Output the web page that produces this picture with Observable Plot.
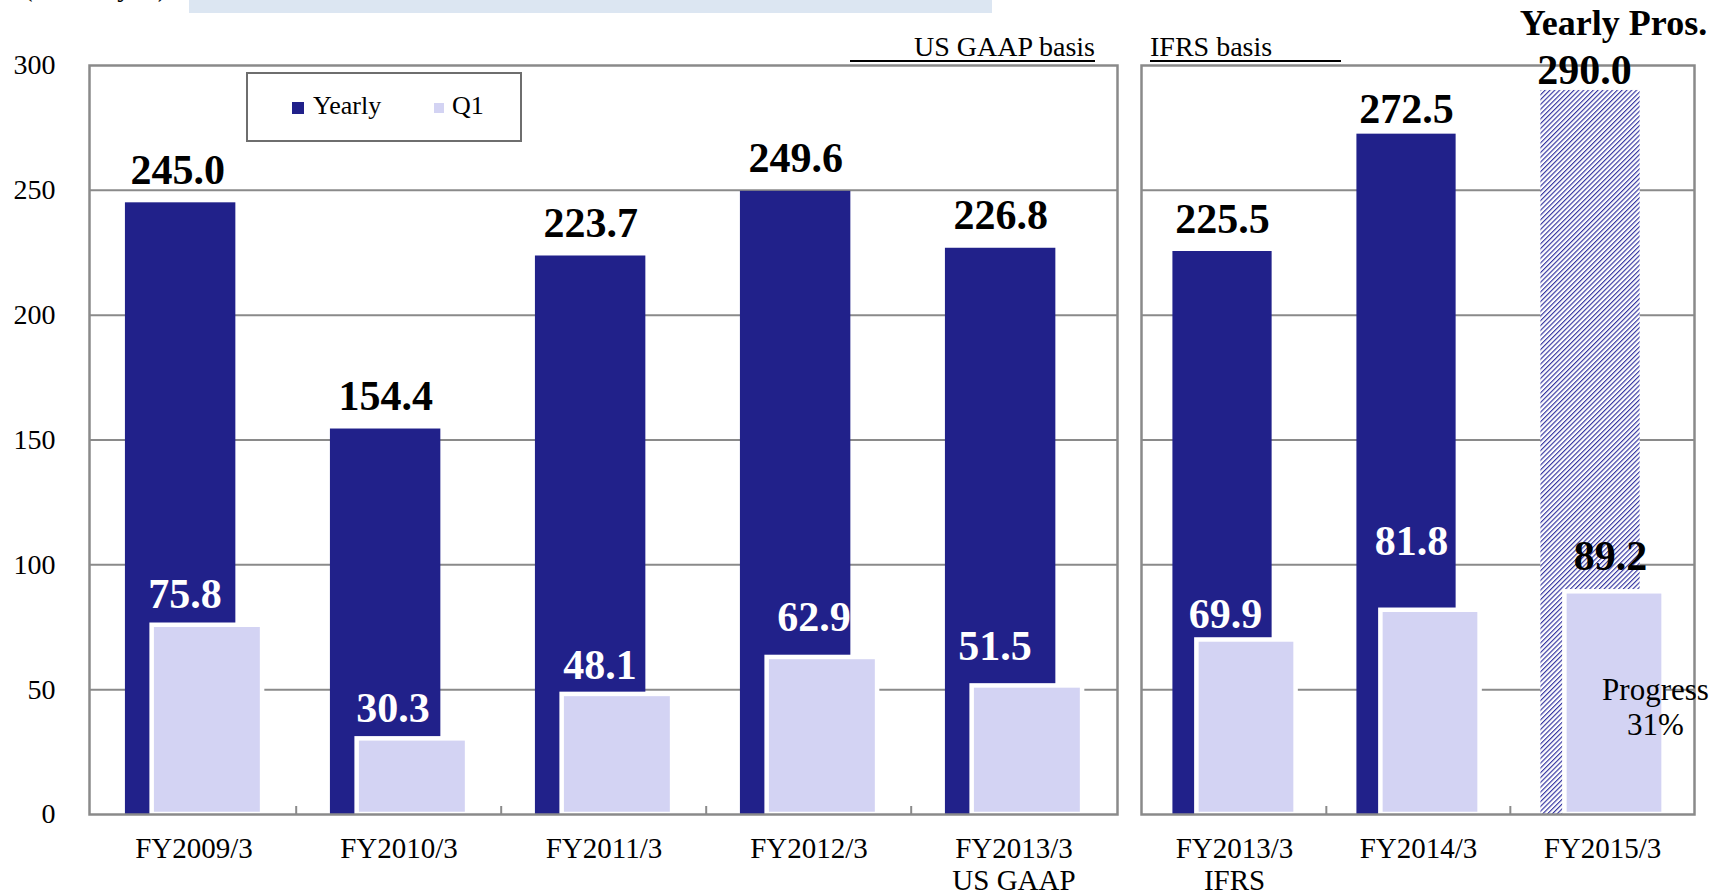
<!DOCTYPE html>
<html>
<head>
<meta charset="utf-8">
<script src="https://cdn.jsdelivr.net/npm/d3@7"></script>
<script src="https://cdn.jsdelivr.net/npm/@observablehq/plot@0.6"></script>
<style>
html, body { margin: 0; padding: 0; background: #fff; }
#chart { position: relative; width: 1717px; height: 895px; overflow: hidden; font-family: 'Liberation Serif', 'Times New Roman', serif; color: #000; }
#chart svg { position: absolute; top: 0; }
.basis { position: absolute; font-size: 28px; line-height: 26px; height: 26px; border-bottom: 2px solid #000; white-space: nowrap; }
#legend { position: absolute; left: 246px; top: 72px; width: 272px; height: 66px; border: 2.5px solid #6e6e6e; background: #fff; font-size: 26px; z-index: 2; }
#legend .sw { position: absolute; }
#legend .lt { position: absolute; line-height: 26px; top: 19px; white-space: nowrap; }
#topbox { position: absolute; left: 189px; top: 0; width: 803px; height: 13px; background: #dce6f2; }
#unit { position: absolute; left: -33px; top: -27px; width: 200px; text-align: right; font-size: 28px; line-height: 28px; white-space: nowrap; }
</style>
</head>
<body>
<div id="chart">
  <div id="unit">(Billion yen)</div>
  <div id="topbox"></div>
  <div class="basis" style="left:850px;top:34px;width:245px;text-align:right;">US GAAP basis</div>
  <div class="basis" style="left:1150px;top:34px;width:191px;text-align:left;">IFRS basis</div>
  <div id="legend">
    <div class="sw" style="left:44px;top:28px;width:12px;height:12px;background:#21218a;"></div>
    <div class="lt" style="left:65px;">Yearly</div>
    <div class="sw" style="left:186px;top:29px;width:10px;height:10px;background:#d3d3f3;"></div>
    <div class="lt" style="left:204px;">Q1</div>
  </div>
</div>
<script>
// ---------- data ----------
const usCategories = ["FY2009/3", "FY2010/3", "FY2011/3", "FY2012/3", "FY2013/3 US GAAP"];
const usYearly = [245.0, 154.4, 223.7, 249.6, 226.8];
const usQ1 = [75.8, 30.3, 48.1, 62.9, 51.5];

const ifrsCategories = ["FY2013/3 IFRS", "FY2014/3", "FY2015/3"];
const ifrsYearly = [225.5, 272.5, 290.0];
const ifrsQ1 = [69.9, 81.8, 89.2];

const forecastCategory = "FY2015/3";   // yearly value is a prospect
const tickLabels = {
  "FY2013/3 US GAAP": "FY2013/3\nUS GAAP",
  "FY2013/3 IFRS": "FY2013/3\nIFRS"
};
const yTicks = [0, 50, 100, 150, 200, 250, 300];

// ---------- style ----------
const NAVY = "#21218a";
const LAV = "#d3d3f3";
const GRID = "#8a8a8a";
const FONT = "'Liberation Serif', 'Times New Roman', serif";
const H = 895, MT = 65, MB = 81;

// label position exceptions (pixels)
const yearlyLift = {"FY2014/3": 11, "FY2015/3": 6};
const yearlyShift = {"FY2015/3": -6, "FY2009/3": -3};
const q1Lift = {"FY2014/3": 55, "FY2012/3": 26, "FY2013/3 US GAAP": 26, "FY2013/3 IFRS": 12, "FY2011/3": 15, "FY2015/3": 22};
const q1Shift = {"FY2009/3": -9, "FY2010/3": -6, "FY2011/3": -4, "FY2012/3": 5, "FY2013/3 US GAAP": -19,
                 "FY2013/3 IFRS": -9, "FY2014/3": -7, "FY2015/3": 8};

function groupedText(rows, keyFn, opts) {
  const groups = d3.group(rows, keyFn);
  return Array.from(groups, ([k, rs]) => Plot.text(rs, {...opts, ...JSON.parse(k)}));
}

function panel({categories, yearly, q1, width, marginLeft, marginRight, showY, left}) {
  const rows = categories.map((c, i) => ({cat: c, yearly: yearly[i], q1: q1[i], forecast: c === forecastCategory}));
  const bw = (width - marginLeft - marginRight) / categories.length;
  const pxPerUnit = (H - MT - MB) / 300;
  const yearlyCenterDx = (0.165 + 0.27 - 0.5) * bw;

  const marks = [
    Plot.ruleY(yTicks.filter(t => t > 0 && t < 300), {stroke: GRID, strokeWidth: 2}),
    Plot.barY(rows.filter(d => !d.forecast), {x: "cat", y: "yearly", fill: NAVY, insetLeft: 0.165 * bw, insetRight: 0.295 * bw}),
    Plot.barY(rows.filter(d => d.forecast), {x: "cat", y: "yearly", fill: "url(#hatch)", insetLeft: 0.165 * bw, insetRight: 0.295 * bw}),
    Plot.barY(rows, {x: "cat", y: "q1", fill: LAV, stroke: "white", strokeWidth: 4.5, insetLeft: 0.295 * bw, insetRight: 0.165 * bw}),
    Plot.frame({stroke: GRID, strokeWidth: 2.5}),
    Plot.ruleX(categories.slice(1), {x: d => d, dx: -bw / 2, y1: 0, y2: 8 / pxPerUnit, stroke: GRID, strokeWidth: 2}),
    Plot.axisX({tickSize: 0, tickPadding: 21, fontSize: 29, lineHeight: 1.1, tickFormat: d => tickLabels[d] || d, label: null}),
    // yearly value labels
    ...groupedText(rows,
      d => JSON.stringify({dy: -(yearlyLift[d.cat] ?? 19), dx: yearlyCenterDx + (yearlyShift[d.cat] ?? 0)}),
      {x: "cat", y: "yearly", text: d => d.yearly.toFixed(1), lineAnchor: "bottom", fontSize: 42, fontWeight: "bold", fill: "black"}),
    // Q1 labels (white on navy, black on the prospect bar)
    ...groupedText(rows,
      d => JSON.stringify({dy: -(q1Lift[d.cat] ?? 17), dx: q1Shift[d.cat] ?? -6, fill: d.forecast ? "black" : "white"}),
      {x: "cat", y: "q1", text: d => d.q1.toFixed(1), lineAnchor: "bottom", fontSize: 42, fontWeight: "bold"}),
    Plot.text(rows.filter(d => d.forecast), {x: "cat", y: "yearly", dx: 11, dy: -55, text: () => "Yearly Pros.", lineAnchor: "bottom", fontSize: 36, fontWeight: "bold", fill: "black"}),
    Plot.text(rows.filter(d => d.forecast), {x: "cat", y: d => d.q1 / 2, dx: 53, dy: 3, text: d => `Progress\n${Math.round(d.q1 / d.yearly * 100)}%`, fontSize: 31, lineHeight: 1.14, fill: "black"})
  ];
  if (showY) marks.push(Plot.axisY({ticks: yTicks, tickSize: 0, tickPadding: 34, fontSize: 28, label: null}));

  const svg = Plot.plot({
    width, height: H,
    marginLeft, marginRight, marginTop: MT, marginBottom: MB,
    x: {type: "band", domain: categories, padding: 0, axis: null},
    y: {domain: [0, 300], axis: null},
    style: {fontFamily: FONT, fontSize: "28px", color: "black", background: "transparent", overflow: "visible"},
    marks
  });
  // hatch pattern for the prospect bar
  const defs = d3.select(svg).insert("defs", ":first-child");
  const p = defs.append("pattern").attr("id", "hatch").attr("patternUnits", "userSpaceOnUse")
    .attr("width", 3.4).attr("height", 3.4).attr("patternTransform", "rotate(45)");
  p.append("rect").attr("width", 3.4).attr("height", 3.4).attr("fill", "white");
  p.append("rect").attr("x", 0).attr("width", 1.15).attr("height", 3.4).attr("fill", "#3434a0");
  svg.style.left = left + "px";
  return svg;
}

const chart = document.getElementById("chart");
chart.insertBefore(panel({categories: usCategories, yearly: usYearly, q1: usQ1, width: 1120, marginLeft: 89, marginRight: 3, showY: true, left: 0}), chart.firstChild);
chart.insertBefore(panel({categories: ifrsCategories, yearly: ifrsYearly, q1: ifrsQ1, width: 597, marginLeft: 21, marginRight: 23, showY: false, left: 1120}), chart.firstChild);
</script>
</body>
</html>
